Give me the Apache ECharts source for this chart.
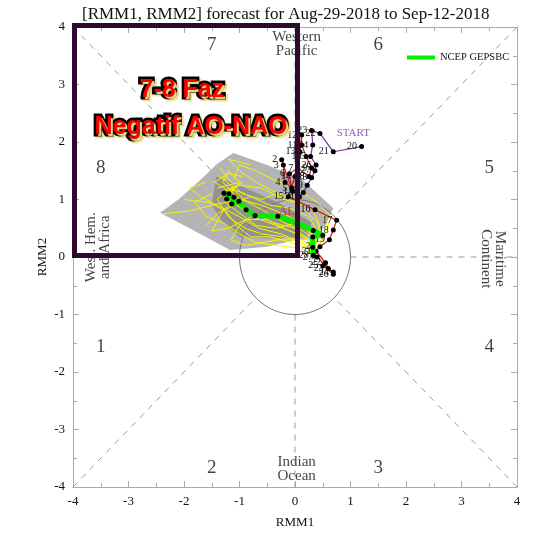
<!DOCTYPE html>
<html>
<head>
<meta charset="utf-8">
<script src="https://cdn.jsdelivr.net/npm/echarts@6/dist/echarts.min.js"></script>
<style>
  html, body { margin: 0; padding: 0; background: #fff; }
  #chart { width: 540px; height: 540px; }
</style>
</head>
<body>
<div id="chart"></div>
<script>
// observed RMM, july 20-31 (purple) and aug 1-28 (red)
const julDays = [20, 21, 22, 23, 24, 25, 26, 27, 28, 29, 30, 31];
const julObs = [
  [1.20, 1.92], [0.69, 1.83], [0.45, 2.15], [0.30, 2.20], [0.32, 1.95], [0.28, 1.75],
  [0.38, 1.60], [0.36, 1.50], [0.30, 1.38], [0.22, 1.25], [0.15, 1.12], [0.08, 1.05]
];
const augDays = [1, 2, 3, 4, 5, 6, 7, 8, 9, 10, 11, 12, 13, 14, 15, 16, 17, 18, 19, 20, 21, 22, 23, 24, 25, 26, 27, 28];
const augObs = [
  [-0.05, 1.15], [-0.24, 1.69], [-0.21, 1.60], [-0.18, 1.30], [-0.06, 1.20], [-0.10, 1.45],
  [0.05, 1.55], [0.25, 1.40], [0.30, 1.55], [0.20, 1.75], [0.12, 1.95], [0.12, 2.12],
  [0.09, 1.83], [0.00, 1.40], [-0.12, 1.05], [0.36, 0.82], [0.75, 0.64], [0.69, 0.47],
  [0.62, 0.30], [0.45, 0.18], [0.38, 0.10], [0.55, -0.10], [0.60, -0.20], [0.69, -0.26],
  [0.50, -0.15], [0.69, -0.30], [0.40, 0.00], [0.33, 0.03]
];

// NCEP GEFS ensemble mean forecast
const fcstMean = [
  [0.33, 0.03], [0.32, 0.17], [0.32, 0.35], [0.50, 0.38], [0.33, 0.46], [0.04, 0.59],
  [-0.31, 0.71], [-0.72, 0.72], [-0.88, 0.82], [-1.01, 0.97], [-1.14, 0.92], [-1.10, 1.04],
  [-1.23, 1.01], [-1.19, 1.10], [-1.28, 1.11]
];

// ensemble members
const members = [
  [[0.33, 0.03], [0.25, 0.3], [0.0, 0.5], [-0.4, 0.6], [-0.8, 0.8], [-1.1, 1.1], [-1.3, 1.3], [-1.2, 1.5], [-1.0, 1.3], [-1.4, 1.2]],
  [[0.33, 0.03], [0.4, 0.35], [0.2, 0.55], [-0.2, 0.75], [-0.6, 0.9], [-1.0, 1.0], [-1.5, 0.9], [-1.9, 0.8], [-2.4, 0.75]],
  [[0.33, 0.03], [0.2, 0.2], [-0.2, 0.35], [-0.6, 0.4], [-0.9, 0.5], [-1.2, 0.7], [-1.4, 1.0], [-1.2, 1.2], [-0.9, 1.1]],
  [[0.33, 0.03], [0.5, 0.3], [0.4, 0.6], [0.1, 0.9], [-0.3, 1.1], [-0.7, 1.3], [-1.0, 1.5], [-1.2, 1.7], [-0.8, 1.6]],
  [[0.33, 0.03], [0.1, 0.15], [-0.3, 0.2], [-0.7, 0.25], [-1.0, 0.4], [-1.3, 0.6], [-1.6, 0.7], [-1.8, 0.95], [-1.5, 1.1]],
  [[0.33, 0.03], [0.45, 0.25], [0.6, 0.5], [0.5, 0.75], [0.2, 0.9], [-0.2, 1.0], [-0.6, 1.2], [-1.0, 1.25], [-1.3, 1.1]],
  [[0.33, 0.03], [0.3, 0.4], [0.05, 0.6], [-0.35, 0.5], [-0.7, 0.55], [-1.05, 0.8], [-1.25, 0.95], [-1.1, 1.2], [-1.35, 1.4]],
  [[0.33, 0.03], [0.2, 0.35], [-0.1, 0.45], [-0.5, 0.65], [-0.9, 0.65], [-1.2, 0.5], [-1.5, 0.45], [-1.3, 0.8], [-1.0, 0.95]],
  [[0.33, 0.03], [0.55, 0.4], [0.65, 0.7], [0.4, 0.95], [0.0, 1.2], [-0.4, 1.35], [-0.7, 1.5], [-1.0, 1.6], [-1.1, 1.35]],
  [[0.33, 0.03], [0.15, 0.25], [-0.25, 0.4], [-0.65, 0.5], [-1.0, 0.7], [-1.3, 0.85], [-1.7, 1.05], [-1.9, 1.2], [-1.6, 1.3]],
  [[0.33, 0.03], [0.35, 0.2], [0.1, 0.3], [-0.3, 0.3], [-0.6, 0.25], [-0.9, 0.2], [-1.15, 0.3], [-1.0, 0.55], [-0.8, 0.7]],
  [[0.33, 0.03], [0.4, 0.45], [0.25, 0.7], [-0.1, 0.85], [-0.45, 0.9], [-0.8, 1.05], [-1.1, 0.95], [-1.4, 0.75], [-1.6, 0.55]],
  [[0.33, 0.03], [0.3, 0.25], [0.05, 0.4], [-0.35, 0.55], [-0.75, 0.7], [-1.05, 0.9], [-1.2, 1.15], [-1.45, 1.3], [-1.2, 1.45], [-0.95, 1.4]],
  [[0.33, 0.03], [0.45, 0.55], [0.3, 0.85], [0.0, 1.0], [-0.35, 1.1], [-0.6, 1.0], [-0.95, 1.1], [-1.15, 1.3], [-1.35, 1.55]],
  [[0.33, 0.03], [0.25, 0.15], [-0.05, 0.25], [-0.45, 0.35], [-0.8, 0.35], [-1.05, 0.55], [-1.25, 0.8], [-1.55, 0.95], [-2.0, 1.0]],
  [[0.33, 0.03], [0.35, 0.3], [0.15, 0.45], [-0.2, 0.6], [-0.55, 0.8], [-0.85, 0.95], [-1.15, 1.2], [-0.95, 1.3], [-1.25, 1.05]]
];

// ensemble spread envelopes
const spreadOuter = [
  [-2.43, 0.77], [-2.1, 1.0], [-1.75, 1.3], [-1.4, 1.62], [-1.11, 1.81], [-0.5, 1.6], [0.14, 1.34],
  [0.69, 0.85], [0.55, 0.55], [0.3, 0.3], [0.03, 0.3], [-0.5, 0.18], [-1.17, 0.12], [-1.8, 0.45]
];
const spreadInner = [
  [-1.42, 1.40], [-0.9, 1.2], [-0.3, 0.95], [0.3, 0.6], [0.2, 0.35], [-0.5, 0.32],
  [-1.0, 0.35], [-1.3, 0.6], [-1.5, 0.9]
];

const phaseNames = ['1', '2', '3', '4', '5', '6', '7', '8'];
const phasePos = [[-3.5, -1.57], [-1.5, -3.67], [1.5, -3.67], [3.5, -1.57], [3.5, 1.55], [1.5, 3.69], [-1.5, 3.69], [-3.5, 1.55]];
const axisMin = -4, axisMax = 4, axisStep = 1;

const serif = '"Liberation Serif", "DejaVu Serif", serif';

// unit circle and phase dividers
const circle = [];
for (let a = 0; a <= 360; a += 4) {
  circle.push([Math.cos(a * Math.PI / 180), Math.sin(a * Math.PI / 180)]);
}
const r = Math.SQRT1_2;
const dividers = [
  [[-4, 4], [-r, r]], [[4, 4], [r, r]], [[-4, -4], [-r, -r]], [[4, -4], [r, -r]],
  [[1, 0], [4, 0]], [[-4, 0], [-1, 0]], [[0, 1], [0, 4]], [[0, -1], [0, -4]]
];

function polySeries(pts, color, z) {
  return {
    type: 'custom', coordinateSystem: 'cartesian2d', z: z, silent: true,
    data: [[0, 0]],
    renderItem: function (params, api) {
      return { type: 'polygon', shape: { points: pts.map(p => api.coord(p)) }, style: { fill: color } };
    }
  };
}

function axisBase(pos, showLabel) {
  return {
    type: 'value', min: axisMin, max: axisMax, interval: axisStep, position: pos,
    axisLine: { onZero: false, lineStyle: { color: '#aaa', width: 1 } },
    axisTick: { inside: true, length: 6, lineStyle: { color: '#aaa' } },
    minorTick: { show: true, splitNumber: 2, length: 4, lineStyle: { color: '#aaa' } },
    splitLine: { show: false },
    axisLabel: { show: showLabel, color: '#111', fontFamily: serif, fontSize: 13, margin: 8 }
  };
}

const series = [];
dividers.forEach(d => series.push({
  type: 'line', data: d, symbol: 'none', silent: true, z: 1,
  lineStyle: { color: '#999', width: 1, type: [6, 6] }
}));
series.push(polySeries(spreadOuter, '#b4b4b4', 2));
series.push(polySeries(spreadInner, '#929292', 3));
series.push({
  type: 'line', data: circle, symbol: 'none', silent: true, z: 4,
  lineStyle: { color: '#777', width: 1 }
});
members.forEach(m => series.push({
  type: 'line', data: m, symbol: 'none', silent: true, z: 5,
  lineStyle: { color: '#f5f500', width: 1 }
}));

// observed path
series.push({
  type: 'line', z: 7, symbol: 'circle', symbolSize: 5,
  data: julObs.map((p, i) => ({ value: p, name: String(julDays[i]) })).concat([{ value: augObs[0], symbol: 'none' }]),
  itemStyle: { color: '#000' },
  lineStyle: { color: '#7a2fa8', width: 1.2 },
  label: { show: true, position: 'left', distance: 2, formatter: '{b}', fontFamily: serif, fontSize: 10, color: '#111' }
});
series.push({
  type: 'line', z: 7, symbol: 'circle', symbolSize: 5,
  data: augObs.map((p, i) => ({ value: p, name: String(augDays[i]) })),
  itemStyle: { color: '#000' },
  lineStyle: { color: '#c02020', width: 1.2 },
  label: { show: true, position: 'left', distance: 2, formatter: '{b}', fontFamily: serif, fontSize: 10, color: '#111' }
});

// ensemble mean
series.push({
  name: 'NCEP GEPSBC', type: 'line', z: 8, data: fcstMean,
  symbol: 'circle', symbolSize: 5, itemStyle: { color: '#000' },
  lineStyle: { color: '#00f000', width: 5 }
});

// text annotations in data space
series.push({
  type: 'scatter', z: 9, symbolSize: 0, silent: true,
  data: phaseNames.map((n, i) => ({ value: phasePos[i], name: n })),
  label: { show: true, position: 'inside', formatter: '{b}', fontFamily: serif, fontSize: 19, color: '#111' }
});
series.push({
  type: 'scatter', z: 9, symbolSize: 0, silent: true,
  data: [
    { value: [0.03, 3.70], name: 'Western\nPacific' },
    { value: [0.03, -3.69], name: 'Indian\nOcean' },
    { value: [-3.55, 0.17], name: 'West. Hem.\nand Africa', label: { rotate: 90 } },
    { value: [3.57, -0.03], name: 'Maritime\nContinent', label: { rotate: -90 } }
  ],
  label: { show: true, position: 'inside', formatter: '{b}', fontFamily: serif, fontSize: 15, lineHeight: 14, color: '#111' }
});
series.push({
  type: 'scatter', z: 9, symbolSize: 0, silent: true,
  data: [
    { value: [1.05, 2.15], name: 'START', label: { color: '#7a2fa8', fontSize: 11 } },
    { value: [-0.15, 0.78], name: 'AL', label: { color: '#d02020', fontSize: 12 } }
  ],
  label: { show: true, position: 'inside', formatter: '{b}', fontFamily: serif }
});

const chart = echarts.init(document.getElementById('chart'));
chart.setOption({
  backgroundColor: '#fff',
  animation: false,
  title: {
    text: '[RMM1, RMM2] forecast for Aug-29-2018 to Sep-12-2018',
    left: 77, top: 1,
    textStyle: { fontFamily: serif, fontSize: 17, fontWeight: 'normal', color: '#111' }
  },
  legend: {
    data: [{ name: 'NCEP GEPSBC', itemStyle: { color: '#00f000' } }],
    left: 402, top: 47, icon: 'rect', itemWidth: 28, itemHeight: 4, itemGap: 4,
    textStyle: { fontFamily: serif, fontSize: 10.5, color: '#111' }
  },
  grid: { left: 73, top: 27, width: 444, height: 460 },
  xAxis: [
    Object.assign(axisBase('bottom', true), {
      name: 'RMM1', nameLocation: 'middle', nameGap: 29,
      nameTextStyle: { fontFamily: serif, fontSize: 13, color: '#111' }
    }),
    axisBase('top', false)
  ],
  yAxis: [
    Object.assign(axisBase('left', true), {
      name: 'RMM2', nameLocation: 'middle', nameGap: 24, nameMoveOverlap: false,
      nameTextStyle: { fontFamily: serif, fontSize: 13, color: '#111' }
    }),
    axisBase('right', false)
  ],
  series: series,
  graphic: [
    {
      type: 'rect', z: 100, silent: true,
      shape: { x: 74.5, y: 25.5, width: 223, height: 230 },
      style: { fill: 'none', stroke: '#2e0a2e', lineWidth: 5 }
    },
    {
      type: 'text', z: 101, left: 137, top: 75,
      style: {
        text: '7-8 Faz', font: 'bold 25px "Liberation Sans", Arial, sans-serif',
        fill: '#ff0000', stroke: '#000', lineWidth: 5, strokeFirst: true,
        textShadowColor: '#efe090', textShadowBlur: 1, textShadowOffsetX: 2, textShadowOffsetY: 2
      }
    },
    {
      type: 'text', z: 101, left: 92, top: 112,
      style: {
        text: 'Negatif AO-NAO', font: 'bold 25px "Liberation Sans", Arial, sans-serif',
        fill: '#ff0000', stroke: '#000', lineWidth: 5, strokeFirst: true,
        textShadowColor: '#efe090', textShadowBlur: 1, textShadowOffsetX: 2, textShadowOffsetY: 2
      }
    }
  ]
});
</script>
</body>
</html>
